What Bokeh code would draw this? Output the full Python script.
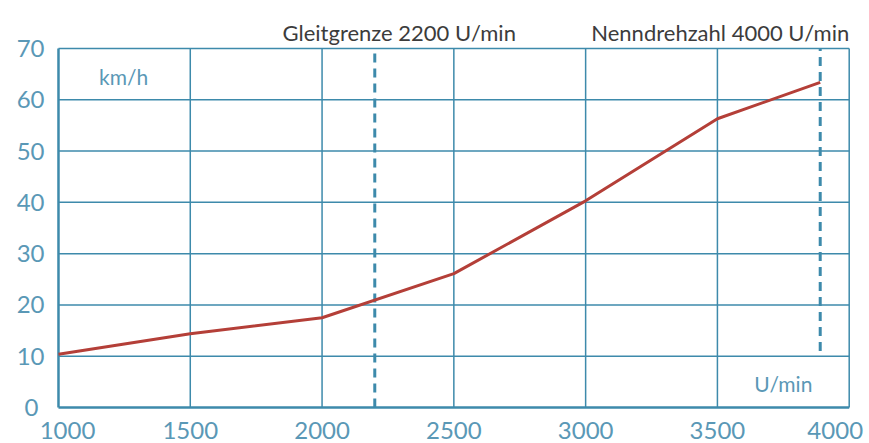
from bokeh.plotting import figure
from bokeh.models import Range1d, ColumnDataSource
from bokeh.core.properties import value
from bokeh.embed import file_html
from bokeh.resources import INLINE

# data
rpm = [1000, 1500, 2000, 2500, 3000, 3500, 3890]
speed = [10.4, 14.4, 17.5, 26.1, 40.3, 56.3, 63.4]
x_ticks = [1000, 1500, 2000, 2500, 3000, 3500, 4000]
x_tick_labels = ["1000", "1500", "2000", "2500", "3000", "3500", "4000"]
y_ticks = [0, 10, 20, 30, 40, 50, 60, 70]
y_tick_labels = ["0", "10", "20", "30", "40", "50", "60", "70"]
glide_rpm = 2200
rated_rpm = 3890
glide_text = "Gleitgrenze 2200 U/min"
rated_text = "Nenndrehzahl 4000 U/min"
y_unit = "km/h"
x_unit = "U/min"

BLUE = "#3d8aab"
LIGHT = "#5a98b6"
RED = "#b43f38"
DARK = "#3c3c3c"
FONT = "Lato"

x0, x1 = x_ticks[0], x_ticks[-1]
y0, y1 = y_ticks[0], y_ticks[-1]

p = figure(width=869, height=443, output_backend="svg", toolbar_location=None,
           x_range=Range1d(780, 4077), y_range=Range1d(-7.02, 79.36),
           x_axis_location=None, y_axis_location=None,
           min_border_left=0, min_border_right=0, min_border_top=0, min_border_bottom=0)
p.outline_line_color = None
p.xgrid.visible = False
p.ygrid.visible = False
p.background_fill_color = "white"
p.border_fill_color = "white"

n_x = len(x_ticks) - 1
n_y = len(y_ticks) - 1
# grid lines
p.segment(x0=x_ticks[1:], y0=[y0] * n_x, x1=x_ticks[1:], y1=[y1] * n_x,
          line_color=BLUE, line_width=1.5)
p.segment(x0=[x0] * n_y, y0=y_ticks[1:], x1=[x1] * n_y, y1=y_ticks[1:],
          line_color=BLUE, line_width=1.5)
# axis lines
p.segment(x0=[x0, x0], y0=[y0, y0], x1=[x1, x0], y1=[y0, y1], line_color=BLUE, line_width=2.5)

# dashed reference lines
p.segment(x0=[glide_rpm, rated_rpm], y0=[y0, 11], x1=[glide_rpm, rated_rpm], y1=[y1, y1],
          line_color=BLUE, line_width=3, line_dash="9 6")

# curve
p.line(rpm, speed, line_color=RED, line_width=3)

# x tick labels
xsrc = ColumnDataSource(dict(x=x_ticks, y=[y0] * len(x_ticks), t=x_tick_labels,
                             off=[9, 0, 0, 0, 0, 0, -14]))
p.text(x="x", y="y", text="t", x_offset="off", y_offset=23, source=xsrc, text_align="center",
       text_baseline="middle", text_color=LIGHT, text_font=value(FONT), text_font_size="24px")

# y tick labels
ysrc = ColumnDataSource(dict(x=[x0] * len(y_ticks), y=y_ticks, t=y_tick_labels,
                             off=[-20, -14, -14, -14, -14, -14, -14, -14]))
p.text(x="x", y="y", text="t", x_offset="off", source=ysrc, text_align="right",
       text_baseline="middle", text_color=LIGHT, text_font=value(FONT), text_font_size="24px")

# annotations
p.text(x=[1850], y=[73.1], text=[glide_text], text_align="left", text_baseline="alphabetic",
       text_color=DARK, text_font=value(FONT), text_font_size="22px")
p.text(x=[x1], y=[73.1], text=[rated_text], text_align="right", text_baseline="alphabetic",
       text_color=DARK, text_font=value(FONT), text_font_size="22px")
p.text(x=[1247], y=[64.5], text=[y_unit], text_align="center", text_baseline="middle",
       text_color=LIGHT, text_font=value(FONT), text_font_size="21px")
p.text(x=[3750], y=[4.7], text=[x_unit], text_align="center", text_baseline="middle",
       text_color=LIGHT, text_font=value(FONT), text_font_size="21px")

open("out.html", "w").write(file_html(p, INLINE))
